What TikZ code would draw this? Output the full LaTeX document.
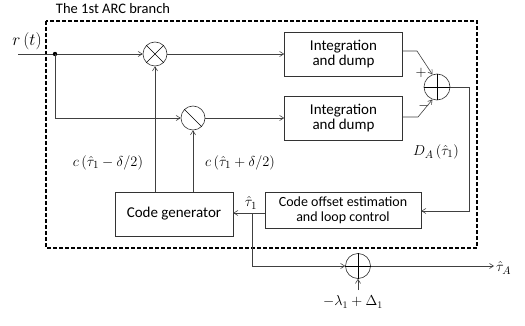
\documentclass[tikz,border=0pt]{standalone}
\usepackage{fontspec}
\setmainfont{Carlito}
\usetikzlibrary{arrows.meta}
\begin{document}
\begin{tikzpicture}[x=1pt,y=-1pt,
  line/.style={draw=black!75,line width=0.6pt},
  arr/.style={line,-{Straight Barb[length=4pt,width=5pt]}},
  blk/.style={draw=black!80,line width=0.6pt,minimum width=118pt,align=center,inner sep=0pt,font=\fontsize{15}{15}\selectfont},
  circ/.style={draw=black!80,line width=0.6pt,circle,inner sep=0pt,minimum size=24pt},
  lbl/.style={font=\fontsize{15}{17}\selectfont,inner sep=0pt}]
\useasboundingbox (0,0) rectangle (525,326);
% dashed frame
\draw[line width=1.2pt,dash pattern=on 4pt off 2pt] (46,21) rectangle (477,248);
\node[lbl,font=\fontsize{14.5}{16}\selectfont] (title) at (113,9) {The 1st ARC branch};
% nodes
\node[lbl,font=\fontsize{17}{19}\selectfont] (rt) at (27,41) {$r\,(t)$};
\coordinate (in) at (18,54);
\coordinate (dot) at (55,54);
\node[circ] (m1) at (155,54) {};
\node[circ] (m2) at (193,118) {};
\draw[line width=0.5pt] (m1.north west) -- (m1.south east) (m1.north east) -- (m1.south west);
\draw[line width=0.5pt] (m2.north west) -- (m2.south east);
\node[blk,minimum height=44pt] (int1) at (343.5,54) {Integration\\and dump};
\node[blk,minimum height=44pt] (int2) at (343.5,118) {Integration\\and dump};
\node[circ,minimum size=26pt] (s1) at (437,87) {};
\draw[line width=0.5pt] (s1.west) -- (s1.east) (s1.north) -- (s1.south);
\node[lbl] (plus) at (421,73) {$+$};
\node[lbl] (minus) at (424,106) {$-$};
\node[blk,minimum width=156pt,minimum height=36pt,font=\fontsize{14}{15}\selectfont] (ce) at (343,210) {Code offset estimation\\and loop control};
\node[blk,minimum height=44pt] (cg) at (174,214) {Code generator};
\node[circ,minimum size=25pt] (s2) at (358,266) {};
\draw[line width=0.5pt] (s2.west) -- (s2.east) (s2.north) -- (s2.south);
\coordinate (br) at (252,213);
\coordinate (out) at (494,266);
\coordinate (bot) at (358,290);
% labels
\node[lbl] (cm) at (108,163) {$c\,(\hat{\tau}_1-\delta/2)$};
\node[lbl] (cp) at (240,163) {$c\,(\hat{\tau}_1+\delta/2)$};
\node[lbl] (da) at (436,152) {$D_A\,(\hat{\tau}_1)$};
\node[lbl] (t1) at (251,203) {$\hat{\tau}_1$};
\node[lbl,anchor=west] (ta) at (496,268) {$\hat{\tau}_A$};
\node[lbl,font=\fontsize{14}{16}\selectfont] (lam) at (353,302) {$-\lambda_1+\Delta_1$};
% connectors
\draw[arr] (in) -- (m1.west);
\fill[black] (dot) circle (2.2pt);
\draw[arr] (dot) |- (m2.west);
\draw[arr] (m1.east) -- (int1.west);
\draw[arr] (m2.east) -- (int2.west);
\draw[arr] (int1.east |- 0,51) -- (417,51) -- (s1.110);
\draw[arr] (int2.east |- 0,117) -- (418,117) -- (s1.250);
\draw[arr] (s1.east) -- (469,87) -- (469,211) -- (ce.east |- 0,211);
\draw[arr] (ce.west |- br) -- (cg.east |- br);
\draw[arr] (cg.north -| m1.south) -- (m1.south);
\draw[arr] (cg.north -| m2.south) -- (m2.south);
\draw[arr] (br) |- (s2.west);
\draw[arr] (s2.east) -- (out);
\draw[arr] (bot) -- (s2.south);
\end{tikzpicture}
\end{document}
